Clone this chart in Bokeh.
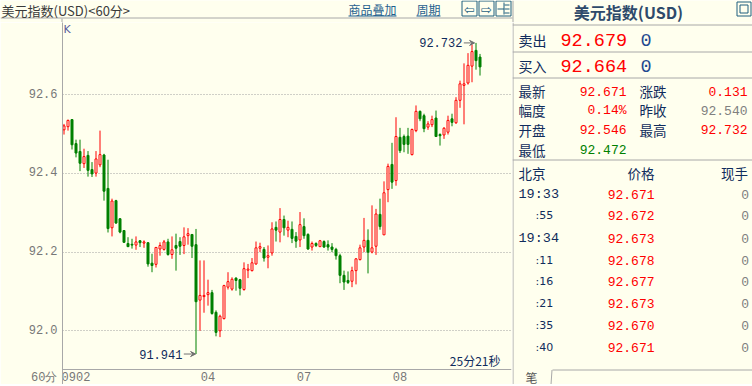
from bokeh.plotting import figure
from bokeh.models import (Range1d, FixedTicker, PrintfTickFormatter, Label, Arrow,
                          VeeHead, ColumnDataSource, Span)
from bokeh.layouts import row, column
from bokeh.embed import file_html
from bokeh.resources import INLINE

# ---------------- colours / fonts ----------------
BG = "#FFFFEE"
UP = "#FF0000"
DOWN = "#008000"
NAVY = "#102C5C"
LINE_GRAY = "#A8A8A8"
LABEL_GRAY = "#777777"
LINK = "#1F5F8F"
ICON = "#1F5F7F"
MONO = "Liberation Mono"
CJK = "Noto Sans CJK SC"

# ---------------- data ----------------
title_text = "美元指数(USD)<60分>"
period_label = "60分"
countdown = "25分21秒"

opens = [
    92.511, 92.519, 92.537, 92.476, 92.456, 92.425, 92.446, 92.410, 92.401, 92.422,
    92.447, 92.362, 92.262, 92.331, 92.285, 92.255, 92.222, 92.220, 92.218, 92.229,
    92.223, 92.224, 92.172, 92.169, 92.208, 92.207, 92.226, 92.194, 92.217, 92.227,
    92.217, 92.242, 92.245, 92.219, 92.078, 92.087, 92.092, 92.097, 92.047, 92.000,
    92.031, 92.111, 92.106, 92.134, 92.130, 92.105, 92.154, 92.153, 92.170, 92.210,
    92.207, 92.187, 92.198, 92.263, 92.251, 92.283, 92.256, 92.258, 92.240, 92.231,
    92.265, 92.245, 92.213, 92.222, 92.214, 92.227, 92.219, 92.213, 92.207, 92.191,
    92.141, 92.128, 92.126, 92.153, 92.181, 92.213, 92.230, 92.200, 92.215, 92.296,
    92.244, 92.359, 92.423, 92.382, 92.492, 92.494, 92.495, 92.448, 92.509, 92.558,
    92.547, 92.518, 92.524, 92.541, 92.499, 92.498, 92.505, 92.539, 92.529, 92.586,
    92.624, 92.630, 92.673, 92.713, 92.696]
highs = [
    92.526, 92.537, 92.538, 92.486, 92.486, 92.463, 92.457, 92.429, 92.457, 92.509,
    92.450, 92.435, 92.336, 92.333, 92.286, 92.256, 92.238, 92.234, 92.240, 92.230,
    92.230, 92.225, 92.196, 92.213, 92.225, 92.231, 92.234, 92.240, 92.247, 92.238,
    92.263, 92.261, 92.246, 92.259, 92.179, 92.179, 92.130, 92.104, 92.052, 92.041,
    92.117, 92.149, 92.136, 92.136, 92.132, 92.174, 92.170, 92.185, 92.227, 92.224,
    92.213, 92.217, 92.276, 92.278, 92.312, 92.293, 92.280, 92.278, 92.251, 92.302,
    92.286, 92.248, 92.227, 92.225, 92.231, 92.230, 92.230, 92.223, 92.211, 92.196,
    92.153, 92.151, 92.163, 92.185, 92.219, 92.287, 92.258, 92.319, 92.310, 92.336,
    92.380, 92.425, 92.478, 92.543, 92.516, 92.499, 92.516, 92.514, 92.573, 92.560,
    92.552, 92.533, 92.547, 92.560, 92.502, 92.518, 92.547, 92.552, 92.594, 92.636,
    92.680, 92.706, 92.728, 92.732, 92.704]
lows = [
    92.499, 92.509, 92.461, 92.441, 92.406, 92.414, 92.392, 92.391, 92.392, 92.416,
    92.331, 92.250, 92.240, 92.272, 92.248, 92.224, 92.213, 92.209, 92.206, 92.213,
    92.211, 92.163, 92.149, 92.161, 92.191, 92.204, 92.191, 92.183, 92.153, 92.193,
    92.195, 92.219, 92.185, 91.941, 92.000, 92.046, 92.064, 92.041, 91.986, 91.984,
    92.029, 92.105, 92.102, 92.102, 92.090, 92.102, 92.134, 92.151, 92.168, 92.200,
    92.176, 92.159, 92.191, 92.227, 92.225, 92.242, 92.238, 92.223, 92.211, 92.213,
    92.234, 92.206, 92.204, 92.213, 92.213, 92.211, 92.204, 92.200, 92.181, 92.121,
    92.104, 92.119, 92.111, 92.118, 92.179, 92.200, 92.146, 92.197, 92.193, 92.257,
    92.244, 92.327, 92.361, 92.369, 92.452, 92.454, 92.450, 92.446, 92.505, 92.533,
    92.505, 92.511, 92.518, 92.494, 92.471, 92.488, 92.499, 92.520, 92.526, 92.567,
    92.525, 92.626, 92.632, 92.664, 92.649]
closes = [
    92.521, 92.535, 92.473, 92.452, 92.426, 92.443, 92.408, 92.399, 92.437, 92.448,
    92.355, 92.260, 92.330, 92.274, 92.251, 92.225, 92.214, 92.218, 92.226, 92.224,
    92.226, 92.170, 92.166, 92.212, 92.217, 92.226, 92.194, 92.206, 92.210, 92.215,
    92.239, 92.247, 92.215, 92.074, 92.090, 92.090, 92.097, 92.044, 91.996, 92.037,
    92.115, 92.125, 92.131, 92.128, 92.108, 92.158, 92.157, 92.173, 92.211, 92.214,
    92.185, 92.191, 92.259, 92.256, 92.283, 92.262, 92.263, 92.235, 92.228, 92.270,
    92.242, 92.208, 92.222, 92.217, 92.229, 92.213, 92.213, 92.207, 92.191, 92.141,
    92.124, 92.123, 92.153, 92.183, 92.211, 92.230, 92.200, 92.211, 92.297, 92.265,
    92.351, 92.418, 92.378, 92.494, 92.458, 92.474, 92.474, 92.512, 92.558, 92.539,
    92.514, 92.526, 92.537, 92.494, 92.496, 92.515, 92.535, 92.530, 92.586, 92.628,
    92.628, 92.675, 92.710, 92.687, 92.671]

day_labels = ["0902", "04", "07", "08"]
day_ticks = [3, 36, 60, 84]
y_ticks = [92.0, 92.2, 92.4, 92.6]
period_tick = 91.881   # where the period label sits on the price axis (label row)

# quote panel data
panel_title = "美元指数(USD)"
ask_label, ask_price, ask_vol = "卖出", "92.679", "0"
bid_label, bid_price, bid_vol = "买入", "92.664", "0"
stat_left_names = ["最新", "幅度", "开盘", "最低"]
stat_left_values = ["92.671", "0.14%", "92.546", "92.472"]
stat_left_colors = [UP, UP, UP, DOWN]
stat_right_names = ["涨跌", "昨收", "最高"]
stat_right_values = ["0.131", "92.540", "92.732"]
stat_right_colors = [UP, "#808080", UP]
tick_header = ["北京", "价格", "现手"]
tick_times = ["19:33", ":55", "19:34", ":11", ":16", ":21", ":35", ":40"]
tick_prices = ["92.671", "92.672", "92.673", "92.678", "92.677", "92.673", "92.670", "92.671"]
tick_vols = ["0", "0", "0", "0", "0", "0", "0", "0"]
tab_label = "笔"

HDR_H = 22   # height of the full-width header strip (page pixels)


def base_fig(w, h, xr, yr):
    f = figure(width=w, height=h, x_range=xr, y_range=yr, output_backend="svg",
               toolbar_location=None, min_border=0, background_fill_color=BG,
               border_fill_color=BG, outline_line_color=None,
               x_axis_location=None, y_axis_location=None)
    f.xgrid.visible = False
    f.ygrid.visible = False
    return f


def put(fig, x, y, s, size, color, font=CJK, align="left", style="normal",
        x_offset=0, y_offset=0):
    fig.add_layout(Label(x=x, y=y, text=s, text_font=font,
                         text_font_size=f"{size}px", text_color=color,
                         text_align=align, text_baseline="middle",
                         text_font_style=style, x_offset=x_offset, y_offset=y_offset))


# ---------------- full-width header strip ----------------
hdr = base_fig(752, HDR_H, Range1d(0, 752), Range1d(HDR_H, 0))
put(hdr, 1, 9.5, title_text, 13, "#3A3A3A")
put(hdr, 348, 9, "商品叠加", 12, LINK)
put(hdr, 416, 9, "周期", 12, LINK)
hdr.segment(x0=[348, 416], y0=[15.5, 15.5], x1=[396, 440], y1=[15.5, 15.5],
            line_color=LINK, line_width=1)
hdr.quad(left=[461.5, 478.5, 495.5], right=[476.5, 493.5, 510.5],
         top=[0.5, 0.5, 0.5], bottom=[15.5, 15.5, 15.5],
         fill_color=None, line_color=ICON, line_width=1)
put(hdr, 469, 8.5, "⇦", 13, ICON, font="DejaVu Sans", align="center")
put(hdr, 486, 8.5, "⇨", 13, ICON, font="DejaVu Sans", align="center")
hdr.segment(x0=[497, 503.5, 504, 504, 504], y0=[8.5, 2, 4.5, 8.5, 12.5],
            x1=[503.5, 503.5, 509, 509, 509], y1=[8.5, 14, 4.5, 8.5, 12.5],
            line_color=ICON, line_width=1)
# separator under the chart title, y-axis line start, panel border
hdr.segment(x0=[0, 61.5, 512.5], y0=[17.5, 18, 0], x1=[512, 61.5, 512.5],
            y1=[17.5, HDR_H, HDR_H], line_color=LINE_GRAY, line_width=1)
# quote panel title + window icon
put(hdr, 628, 11, panel_title, 16, "#2E4A6B", style="bold", align="center")
hdr.quad(left=[736.5, 739.5], right=[750.5, 747.5], top=[1.5, 4.5], bottom=[15.5, 12.5],
         fill_color=None, line_color=ICON, line_width=1)

# ---------------- candlestick chart (page y 22..384) ----------------
XS, XE = -0.375, 111.875
YS, YE = 91.8635, 92.7839    # frame covers the date-label row too
YSEP = 91.9016               # separator line above the date labels
p = figure(width=512, height=384 - HDR_H, x_range=Range1d(XS, XE), y_range=Range1d(YS, YE),
           output_backend="svg", toolbar_location=None,
           min_border_left=62, min_border_right=1, min_border_top=0, min_border_bottom=0,
           background_fill_color=BG, border_fill_color=BG, outline_line_color=None)

p.xaxis.ticker = FixedTicker(ticks=day_ticks)
p.xaxis.major_label_overrides = {t: l for t, l in zip(day_ticks, day_labels)}
p.yaxis.ticker = FixedTicker(ticks=y_ticks + [period_tick])
p.yaxis.formatter = PrintfTickFormatter(format="%.1f")
p.yaxis.major_label_overrides = {period_tick: period_label}
for ax in (p.xaxis, p.yaxis):
    ax.major_tick_line_color = None
    ax.minor_tick_line_color = None
    ax.major_tick_out = 0
    ax.major_tick_in = 0
    ax.minor_tick_out = 0
    ax.minor_tick_in = 0
    ax.axis_line_color = LINE_GRAY
    ax.major_label_text_font = MONO
    ax.major_label_text_font_size = "12px"
    ax.major_label_text_color = LABEL_GRAY
p.yaxis.major_label_standoff = 5
p.xaxis.major_label_standoff = -13
p.xaxis.axis_line_color = None
p.xgrid.visible = False
p.ygrid.ticker = FixedTicker(ticks=y_ticks)
p.ygrid.grid_line_color = "#A0A0A0"
p.ygrid.grid_line_dash = "1 2"
p.add_layout(Span(location=YSEP, dimension="width", line_color=LINE_GRAY, line_width=1))

idx = list(range(len(opens)))
rising = [c >= o for o, c in zip(opens, closes)]
src = ColumnDataSource(dict(
    x=idx, o=opens, h=highs, l=lows, c=closes,
    top=[max(o, c) for o, c in zip(opens, closes)],
    bottom=[min(o, c) for o, c in zip(opens, closes)],
    color=[UP if r else DOWN for r in rising],
    fill=[BG if r else DOWN for r in rising],
))
p.segment(x0="x", y0="h", x1="x", y1="l", line_color="color", line_width=1, source=src)
p.vbar(x="x", width=0.5, top="top", bottom="bottom", fill_color="fill",
       line_color="color", line_width=1, source=src)

# high / low markers
hi_i = highs.index(max(highs))
lo_i = lows.index(min(lows))
ARROW = "#707070"
p.add_layout(Arrow(end=VeeHead(size=5, line_color=ARROW, fill_color=ARROW, line_width=1),
                   x_start=hi_i - 3.05, y_start=highs[hi_i], x_end=hi_i - 0.35, y_end=highs[hi_i],
                   line_color=ARROW, line_width=1))
put(p, hi_i - 3.4, highs[hi_i], f"{highs[hi_i]:.3f}", 12, NAVY, font=MONO, align="right")
p.add_layout(Arrow(end=VeeHead(size=5, line_color=ARROW, fill_color=ARROW, line_width=1),
                   x_start=lo_i - 3.05, y_start=lows[lo_i], x_end=lo_i - 0.1, y_end=lows[lo_i],
                   line_color=ARROW, line_width=1))
put(p, lo_i - 3.4, lows[lo_i], f"{lows[lo_i]:.3f}", 12, NAVY, font=MONO, align="right")

# corner texts
put(p, XS, YE, "K", 11, "#5A5A9A", font="DejaVu Sans", x_offset=1, y_offset=-7)
put(p, XE, YSEP, countdown, 12, NAVY, align="right", x_offset=-11, y_offset=9)

# ---------------- quote panel (page y 22..384) ----------------
q = base_fig(240, 384 - HDR_H, Range1d(0, 240), Range1d(384, HDR_H))
q.segment(x0=[0.5, 0, 0, 0, 0, 40], y0=[HDR_H, 24.5, 51.5, 77.5, 159.5, 369.5],
          x1=[0.5, 240, 240, 240, 240, 240], y1=[384, 24.5, 51.5, 77.5, 159.5, 369.5],
          line_color=LINE_GRAY, line_width=1)
q.segment(x0=[39.5], y0=[369.5], x1=[38.5], y1=[384], line_color=LINE_GRAY, line_width=1)

put(q, 6, 39.5, ask_label, 14, NAVY)
put(q, 48, 39.5, ask_price, 18.5, UP, font=MONO)
put(q, 128, 39.5, ask_vol, 18.5, "#1F4A90", font=MONO)
put(q, 6, 65.5, bid_label, 14, NAVY)
put(q, 48, 65.5, bid_price, 18.5, UP, font=MONO)
put(q, 128, 65.5, bid_vol, 18.5, "#1F4A90", font=MONO)

stat_y = [90.5, 109.5, 129, 149]
for yv, n, v, c in zip(stat_y, stat_left_names, stat_left_values, stat_left_colors):
    put(q, 6, yv, n, 13.5, NAVY)
    put(q, 114, yv, v, 13, c, font=MONO, align="right")
for yv, n, v, c in zip(stat_y, stat_right_names, stat_right_values, stat_right_colors):
    put(q, 127, yv, n, 13.5, NAVY)
    put(q, 235, yv, v, 13, c, font=MONO, align="right")

put(q, 6, 172.5, tick_header[0], 13.5, NAVY)
put(q, 115, 172.5, tick_header[1], 13.5, NAVY)
put(q, 208.5, 172.5, tick_header[2], 13.5, NAVY)
row_y = [193.5, 215, 237.5, 259.5, 281, 303, 325, 347]
for yv, t, pr, vol in zip(row_y, tick_times, tick_prices, tick_vols):
    if t.startswith(":"):
        put(q, 23, yv, t, 11, NAVY, font="DejaVu Sans")
    else:
        put(q, 6, yv, t, 13.5, NAVY, font=MONO)
    put(q, 142, yv, pr, 13, UP, font=MONO, align="right")
    put(q, 236.5, yv, vol, 13, "#808080", font=MONO, align="right")
put(q, 19, 376.5, tab_label, 12, "#555555", align="center")

# ---------------- bottom strip ----------------
strip = figure(width=752, height=2, output_backend="svg", toolbar_location=None,
               min_border=0, background_fill_color="#24506A", border_fill_color="#24506A",
               outline_line_color=None, x_axis_location=None, y_axis_location=None,
               x_range=Range1d(0, 1), y_range=Range1d(0, 1))
strip.xgrid.visible = False
strip.ygrid.visible = False

layout = column(hdr, row(p, q), strip)
open("out.html", "w").write(file_html(layout, INLINE))
